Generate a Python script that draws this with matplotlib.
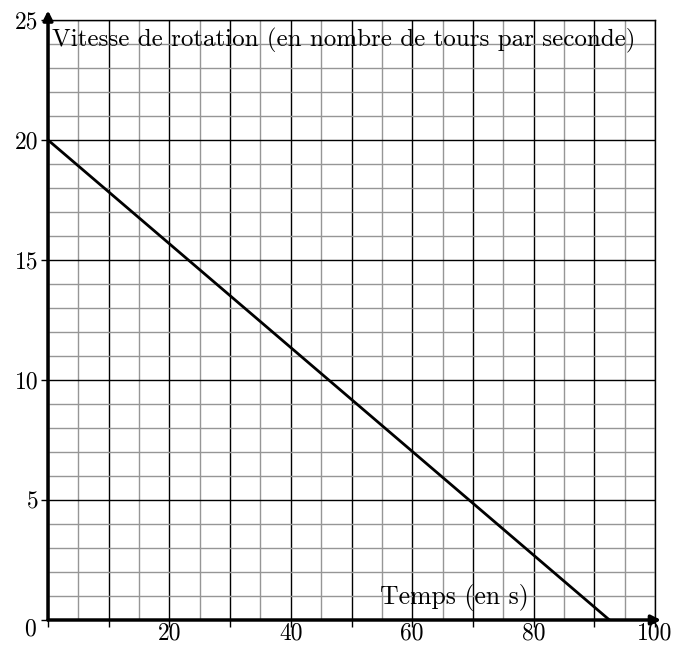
import matplotlib
matplotlib.use("Agg")
import matplotlib.pyplot as plt
import numpy as np
from matplotlib.ticker import FuncFormatter

plt.rcParams['font.family'] = 'serif'
plt.rcParams['font.serif'] = ['cmr10', 'DejaVu Serif']
plt.rcParams['axes.formatter.use_mathtext'] = True

# données
temps = [0, 92.5]
vitesse = [20, 0]
x_major = list(range(0, 101, 10))
x_minor = list(range(0, 101, 5))
y_major = list(range(0, 26, 5))
y_minor = list(range(0, 26, 1))
x_labels = [20, 40, 60, 80, 100]
y_labels = [5, 10, 15, 20, 25]

fig = plt.figure(figsize=(6.89, 6.47), dpi=100)
ax = fig.add_axes([48 / 689, 27 / 647, 607 / 689, 600 / 647])

ax.set_xlim(0, 100)
ax.set_ylim(0, 25)

ax.set_xticks(x_major)
ax.set_xticks(x_minor, minor=True)
ax.set_yticks(y_major)
ax.set_yticks(y_minor, minor=True)
ax.xaxis.set_major_formatter(FuncFormatter(lambda v, p: f"{int(v)}" if int(v) in x_labels else ""))
ax.yaxis.set_major_formatter(FuncFormatter(lambda v, p: f"{int(v)}" if int(v) in y_labels else ""))
ax.tick_params(which='major', length=5, width=1, direction='out', labelsize=17, colors='black')
ax.tick_params(axis='x', which='major', pad=-3)
ax.tick_params(axis='y', which='major', pad=2)
ax.tick_params(which='minor', length=0)

# quadrillage
ax.grid(which='minor', color='#969696', linewidth=1.0)
ax.grid(which='major', color='black', linewidth=1.0)
ax.set_axisbelow(True)

for s in ['top', 'right']:
    ax.spines[s].set_linewidth(1.0)
for s in ['left', 'bottom']:
    ax.spines[s].set_visible(False)

# axes avec flèches
ax.annotate('', xy=(101, 0), xytext=(0, 0),
            arrowprops=dict(arrowstyle='-|>', color='black', lw=2.5, mutation_scale=14, shrinkA=0, shrinkB=0),
            annotation_clip=False)
ax.annotate('', xy=(0, 25.4), xytext=(0, 0),
            arrowprops=dict(arrowstyle='-|>', color='black', lw=2.5, mutation_scale=14, shrinkA=0, shrinkB=0),
            annotation_clip=False)

ax.plot(temps, vitesse, color='black', linewidth=2, solid_capstyle='butt')

ax.text(0.6, 24.15, "Vitesse de rotation (en nombre de tours par seconde)", fontsize=18,
        ha='left', va='center', zorder=5)
ax.text(67, 0.95, "Temps (en s)", fontsize=18.5, ha='center', va='center', zorder=5)
ax.text(-3, -0.4, "0", fontsize=17, ha='center', va='center')

fig.savefig("out.png", dpi=100)
